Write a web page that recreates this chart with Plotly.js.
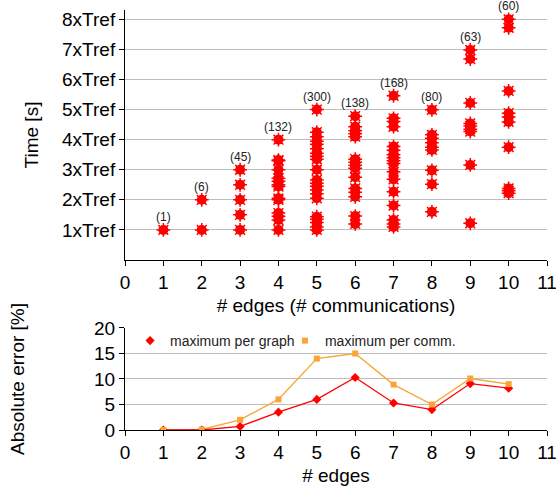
<!DOCTYPE html>
<html>
<head>
<meta charset="utf-8">
<script src="https://cdn.plot.ly/plotly-3.0.1.min.js"></script>
<style>html,body{margin:0;padding:0;background:#fff;}#chart{width:556px;height:487px;}</style>
</head>
<body>
<div id="chart"></div>
<script>
// ---- data ----
const edgeCounts = [1, 2, 3, 4, 5, 6, 7, 8, 9, 10];
const graphCounts = ["(1)", "(6)", "(45)", "(132)", "(300)", "(138)", "(168)", "(80)", "(63)", "(60)"];
const times1 = [1.0];
const times2 = [2.0, 1.0];
const times3 = [3.0, 2.5, 2.0, 1.5, 1.0];
const times4 = [4.0, 3.32, 3.3, 3.0, 2.72, 2.62, 2.5, 2.44, 2.05, 2.0, 1.56, 1.45, 1.33, 1.0];
const times5 = [5.0, 4.25, 4.1, 3.95, 3.85, 3.7, 3.55, 3.45, 3.35, 3.0, 2.66, 2.55, 2.45, 2.33, 2.2, 2.05, 1.44, 1.35, 1.25, 1.1, 1.0];
const times6 = [4.78, 4.43, 4.3, 4.2, 4.1, 3.35, 3.25, 3.15, 3.05, 2.75, 2.38, 2.25, 2.1, 1.46, 1.2];
const times7 = [5.46, 4.71, 4.6, 4.43, 3.77, 3.65, 3.5, 3.4, 3.3, 3.21, 2.93, 2.68, 2.27, 1.81, 1.33, 1.2, 1.1];
const times8 = [4.99, 4.16, 4.05, 3.9, 3.75, 3.66, 2.98, 2.52, 1.6];
const times9 = [6.98, 6.68, 5.22, 4.54, 4.45, 4.35, 4.27, 3.16, 1.22];
const times10 = [8.0, 7.72, 5.62, 4.88, 4.75, 4.59, 3.75, 2.38, 2.3, 2.22];
const timesByEdge = [times1, times2, times3, times4, times5, times6, times7, times8, times9, times10];
const yTickVals = [1, 2, 3, 4, 5, 6, 7, 8];
const yTickText = ["1xTref", "2xTref", "3xTref", "4xTref", "5xTref", "6xTref", "7xTref", "8xTref"];
const errPerGraph = [0, 0, 0.7, 3.5, 6, 10.3, 5.3, 4, 9.1, 8.2];
const errPerComm = [0, 0.1, 2, 6, 14, 15, 8.9, 5, 10.1, 9];

// ---- build ----
const sx = [], sy = [];
timesByEdge.forEach((arr, i) => arr.forEach(v => { sx.push(edgeCounts[i]); sy.push(v); }));
const maxTimes = timesByEdge.map(a => Math.max(...a));

const FONT = "Liberation Sans, Arial, Helvetica, sans-serif";
const RED = "#ff0000", ORANGE = "#f9a435";

const traces = [
  {x: sx, y: sy, xaxis: "x", yaxis: "y", type: "scatter", mode: "markers", showlegend: false,
   marker: {symbol: "circle", size: 10, color: RED}, hoverinfo: "skip"},
  {x: sx, y: sy, xaxis: "x", yaxis: "y", type: "scatter", mode: "markers", showlegend: false,
   marker: {symbol: "asterisk-open", size: 11.5, color: RED, line: {color: RED, width: 1.5}}},
  {x: edgeCounts, y: errPerComm, xaxis: "x2", yaxis: "y2", type: "scatter", mode: "lines", showlegend: false,
   line: {color: ORANGE, width: 1.3}},
  {x: edgeCounts, y: errPerGraph, xaxis: "x2", yaxis: "y2", type: "scatter", mode: "lines", showlegend: false,
   line: {color: RED, width: 1.3}},
  {x: edgeCounts, y: errPerGraph, xaxis: "x2", yaxis: "y2", type: "scatter", mode: "markers", name: "maximum per graph",
   legend: "legend", marker: {symbol: "diamond", size: 7, color: RED}},
  {x: edgeCounts, y: errPerComm, xaxis: "x2", yaxis: "y2", type: "scatter", mode: "markers", name: "maximum per comm.",
   legend: "legend2", marker: {symbol: "square", size: 6, color: ORANGE}}
];

const annotations = edgeCounts.map((e, i) => ({
  x: e, y: maxTimes[i], xref: "x", yref: "y", text: graphCounts[i], showarrow: false,
  yanchor: "middle", yshift: 13, font: {family: FONT, size: 12, color: "#222"}
}));

const axisCommon = {
  showline: true, linecolor: "#000", linewidth: 1, ticks: "outside", ticklen: 5, tickcolor: "#000",
  tickfont: {family: FONT, size: 19, color: "#000"}, zeroline: false, ticklabeloverflow: "allow"
};

const legendCommon = {orientation: "h", y: 0.25, yref: "paper", xanchor: "left", yanchor: "top",
  font: {family: FONT, size: 14, color: "#222"}, bgcolor: "rgba(0,0,0,0)"};

const layout = {
  width: 556, height: 487,
  margin: {l: 125, r: 9, t: 10, b: 57},
  paper_bgcolor: "#fff", plot_bgcolor: "#fff",
  font: {family: FONT, color: "#000"},
  showlegend: true,
  legend: Object.assign({}, legendCommon, {x: 0.012}),
  legend2: Object.assign({}, legendCommon, {x: 0.379}),
  xaxis: Object.assign({}, axisCommon, {anchor: "y", range: [0, 11], tickvals: [0,1,2,3,4,5,6,7,8,9,10,11], showgrid: false,
          title: {text: "# edges (# communications)", font: {family: FONT, size: 19}, standoff: 6}}),
  yaxis: Object.assign({}, axisCommon, {domain: [0.4048, 1], range: [0, 8.31], tickvals: yTickVals, ticktext: yTickText,
          showgrid: true, gridcolor: "#bdbdbd", gridwidth: 1,
          title: {text: "Time [s]", font: {family: FONT, size: 19}, standoff: 18}}),
  xaxis2: Object.assign({}, axisCommon, {anchor: "y2", range: [0, 11], tickvals: [0,1,2,3,4,5,6,7,8,9,10,11], showgrid: false,
          title: {text: "# edges", font: {family: FONT, size: 19}, standoff: 6}}),
  yaxis2: Object.assign({}, axisCommon, {domain: [0, 0.2429], range: [0, 20], tickvals: [0, 5, 10, 15, 20],
          showgrid: true, gridcolor: "#bdbdbd", gridwidth: 1,
          title: {text: "Absolute error [%]", font: {family: FONT, size: 19}, standoff: 64}}),
  annotations: annotations
};

Plotly.newPlot("chart", traces, layout, {displayModeBar: false, staticPlot: true});
</script>
</body>
</html>
